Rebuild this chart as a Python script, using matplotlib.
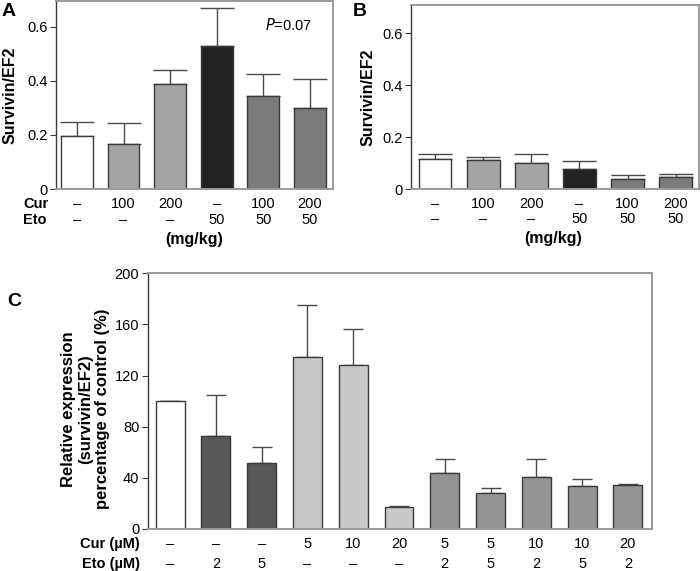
import numpy as np
import matplotlib.pyplot as plt
from matplotlib import transforms

plt.rcParams['font.family'] = ['Liberation Sans', 'DejaVu Sans']

## -------- data -------- ##

# Panel A (survivin/EF2, in vivo)
a_vals = [0.197, 0.168, 0.388, 0.528, 0.345, 0.298]
a_err  = [0.050, 0.075, 0.054, 0.140, 0.080, 0.108]
# Panel B
b_vals = [0.115, 0.111, 0.099, 0.076, 0.040, 0.046]
b_err  = [0.018, 0.014, 0.036, 0.032, 0.013, 0.012]
ab_cur = ['–', '100', '200', '–', '100', '200']
ab_eto = ['–', '–', '–', '50', '50', '50']
ab_colors = ['white', '#a4a4a6', '#a4a4a6', '#222222', '#7b7b7e', '#7b7b7e']

# Panel C (relative expression, % of control)
c_vals = [100, 73, 51.5, 134.5, 128.5, 17.2, 43.5, 28.4, 40.4, 33.4, 34.4]
c_err  = [0, 32, 12.3, 40.5, 28.1, 1.0, 11.0, 3.9, 14.1, 5.9, 1.0]
c_cur  = ['–', '–', '–', '5', '10', '20', '5', '5', '10', '10', '20']
c_eto  = ['–', '2', '5', '–', '–', '–', '2', '5', '2', '5', '2']
c_colors = ['white', '#58585a', '#58585a', '#c9c9cb', '#c9c9cb', '#c9c9cb',
            '#949497', '#949497', '#949497', '#949497', '#949497']

edge = '#3a3a3a'
errc = '#4a4a4a'
fs = 10.5


def style_axes(ax):
    for s in ['top', 'right', 'bottom']:
        ax.spines[s].set_color('#9a9a9a')
        ax.spines[s].set_linewidth(1.4)
    ax.spines['left'].set_color('#3a3a3a')
    ax.spines['left'].set_linewidth(1.0)
    ax.tick_params(axis='y', length=4, width=0.8, color='#3a3a3a', labelsize=fs, pad=2)
    ax.tick_params(axis='x', length=0, labelbottom=False)


def draw_bars(ax, vals, err, colors, width, capsize):
    x = np.arange(len(vals))
    ax.bar(x, vals, width=width, color=colors, edgecolor=edge, linewidth=1.0, zorder=2)
    ax.errorbar(x, vals, yerr=[np.zeros(len(vals)), err], fmt='none',
                ecolor=errc, elinewidth=1.0, capsize=capsize, capthick=1.0, zorder=1)
    return x


def row_labels(ax, x, labels, yfrac):
    trans = transforms.blended_transform_factory(ax.transData, ax.transAxes)
    for xi, t in zip(x, labels):
        ax.text(xi, yfrac, t, transform=trans, ha='center', va='center',
                fontsize=fs, clip_on=False)


fig = plt.figure(figsize=(7.0, 5.71), dpi=100)

## -------- Panel A -------- ##
axA = fig.add_axes([0.080, 0.669, 0.396, 0.329])
xA = draw_bars(axA, a_vals, a_err, ab_colors, 0.68, 12)
axA.set_xlim(-0.45, 5.5)
axA.set_ylim(0, 0.695)
axA.set_yticks([0, 0.2, 0.4, 0.6])
axA.set_yticklabels(['0', '0.2', '0.4', '0.6'])
style_axes(axA)
axA.set_ylabel('Survivin/EF2', fontsize=11.5, fontweight='bold')
axA.yaxis.set_label_coords(-0.138, 0.5)
row_labels(axA, xA, ab_cur, -0.080)
row_labels(axA, xA, ab_eto, -0.165)
axA.text(0.5, -0.268, '(mg/kg)', transform=axA.transAxes, ha='center', va='center',
         fontsize=11.5, fontweight='bold')
axA.text(0.755, 0.875, '$\\it{P}$=0.07', transform=axA.transAxes, ha='left', va='center',
         fontsize=fs)
fig.text(23 / 700, 1 - 204 / 571, 'Cur', ha='left', va='center', fontsize=fs, fontweight='bold')
fig.text(23 / 700, 1 - 220 / 571, 'Eto', ha='left', va='center', fontsize=fs, fontweight='bold')
fig.text(2 / 700, 1 - 12 / 571, 'A', ha='left', va='center', fontsize=14, fontweight='bold')

## -------- Panel B -------- ##
axB = fig.add_axes([0.587, 0.669, 0.411, 0.323])
xB = draw_bars(axB, b_vals, b_err, ab_colors, 0.67, 12)
axB.set_xlim(-0.51, 5.48)
axB.set_ylim(0, 0.71)
axB.set_yticks([0, 0.2, 0.4, 0.6])
axB.set_yticklabels(['0', '0.2', '0.4', '0.6'])
style_axes(axB)
axB.set_ylabel('Survivin/EF2', fontsize=11.5, fontweight='bold')
axB.yaxis.set_label_coords(-0.122, 0.5)
row_labels(axB, xB, ab_cur, -0.080)
row_labels(axB, xB, ab_eto, -0.165)
axB.text(0.495, -0.268, '(mg/kg)', transform=axB.transAxes, ha='center', va='center',
         fontsize=11.5, fontweight='bold')
fig.text(353 / 700, 1 - 11 / 571, 'B', ha='left', va='center', fontsize=14, fontweight='bold')

## -------- Panel C -------- ##
axC = fig.add_axes([0.211, 0.0736, 0.720, 0.4478])
xC = draw_bars(axC, c_vals, c_err, c_colors, 0.63, 7)
axC.set_xlim(-0.49, 10.52)
axC.set_ylim(0, 200)
axC.set_yticks([0, 40, 80, 120, 160, 200])
style_axes(axC)
axC.set_ylabel('Relative expression\n(survivin/EF2)\npercentage of control (%)',
               fontsize=12, fontweight='bold', linespacing=1.15)
axC.yaxis.set_label_coords(-0.075, 0.47)
row_labels(axC, xC, c_cur, -0.059)
row_labels(axC, xC, c_eto, -0.137)
fig.text(140 / 700, 1 - 544 / 571, 'Cur (µM)', ha='right', va='center', fontsize=fs, fontweight='bold')
fig.text(140 / 700, 1 - 564 / 571, 'Eto (µM)', ha='right', va='center', fontsize=fs, fontweight='bold')
fig.text(7 / 700, 1 - 302 / 571, 'C', ha='left', va='center', fontsize=14, fontweight='bold')

fig.savefig('out.png', dpi=100)
